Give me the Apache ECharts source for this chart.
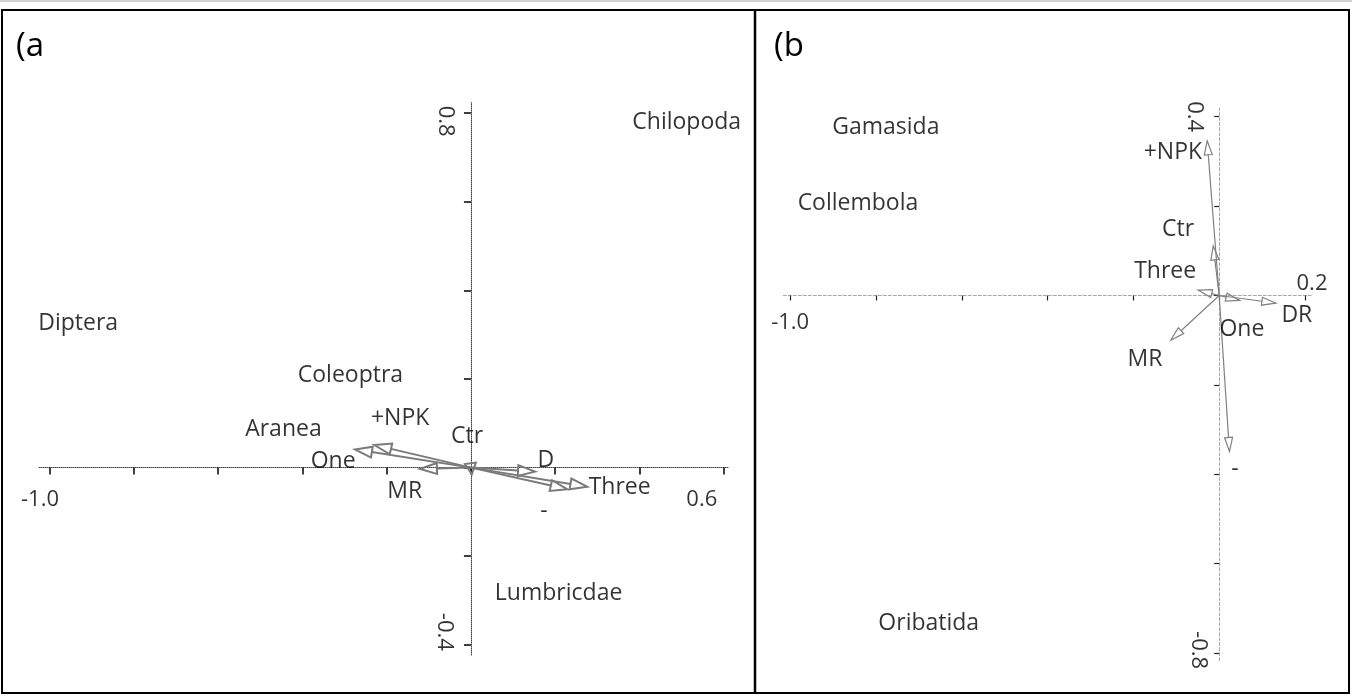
<!DOCTYPE html>
<html>
<head>
<meta charset="utf-8">
<script src="https://cdn.jsdelivr.net/npm/echarts@6/dist/echarts.min.js"></script>
<style>
html,body{margin:0;padding:0;background:#fff;}
#chart{width:1352px;height:695px;}
</style>
</head>
<body>
<div id="chart"></div>
<script>
// ---------- Data: panel (a) ----------
const xTicksA = [-1.0, -0.8, -0.6, -0.4, -0.2, 0, 0.2, 0.4, 0.6];
const yTicksA = [-0.4, -0.2, 0, 0.2, 0.4, 0.6, 0.8];
const tickLabelA = ['-1.0', '0.6', '0.8', '-0.4'];
const tickLabelAX = [-1.0, 0.6, 0, 0];
const tickLabelAY = [0, 0, 0.8, -0.4];
const speciesA = ['Chilopoda', 'Diptera', 'Coleoptra', 'Aranea', 'Lumbricdae'];
const speciesAX = [0.512, -0.932, -0.286, -0.445, 0.208];
const speciesAY = [0.780, 0.326, 0.209, 0.087, -0.285];
const envA = ['+NPK', 'One', 'MR', 'Ctr', 'D', '-', 'Three'];
const envAX = [-0.229, -0.275, -0.121, 0.002, 0.152, 0.229, 0.276];
const envAY = [0.051, 0.041, -0.003, -0.015, -0.009, -0.049, -0.043];
const envLabelAX = [-0.168, -0.327, -0.157, -0.009, 0.178, 0.173, 0.353];
const envLabelAY = [0.112, 0.015, -0.054, 0.071, 0.017, -0.100, -0.044];

// ---------- Data: panel (b) ----------
const xTicksB = [-1.0, -0.8, -0.6, -0.4, -0.2, 0, 0.2];
const yTicksB = [-0.8, -0.6, -0.4, -0.2, 0, 0.2, 0.4];
const tickLabelB = ['-1.0', '0.2', '0.4', '-0.8'];
const tickLabelBX = [-1.0, 0.2, 0, 0];
const tickLabelBY = [0, 0, 0.4, -0.8];
const speciesB = ['Gamasida', 'Collembola', 'Oribatida'];
const speciesBX = [-0.777, -0.842, -0.677];
const speciesBY = [0.375, 0.207, -0.733];
const envB = ['+NPK', 'Ctr', 'Three', 'One', 'DR', 'MR', '-'];
const envBX = [-0.028, -0.014, -0.049, 0.048, 0.132, -0.113, 0.024];
const envBY = [0.346, 0.111, 0.012, -0.011, -0.017, -0.100, -0.349];
const envLabelBX = [-0.108, -0.096, -0.126, 0.053, 0.181, -0.173, 0.037];
const envLabelBY = [0.319, 0.147, 0.053, -0.075, -0.044, -0.142, -0.390];

// ---------- Helpers ----------
const FONT = '"Open Sans"';
const FS = 23;

function arrowRender(headLen, headW, color, lw) {
  return function (params, api) {
    const o = api.coord([0, 0]);
    const t = api.coord([api.value(0), api.value(1)]);
    const dx = t[0] - o[0], dy = t[1] - o[1];
    const len = Math.hypot(dx, dy) || 1;
    const ux = dx / len, uy = dy / len;
    const hl = Math.min(headLen, Math.max(len, headLen * 0.65));
    const bx = t[0] - ux * hl, by = t[1] - uy * hl;
    const px = -uy, py = ux;
    const children = [];
    if (len > hl) {
      children.push({type: 'line', shape: {x1: o[0], y1: o[1], x2: bx, y2: by},
        style: {stroke: color, lineWidth: lw}});
    }
    children.push({type: 'polygon',
      shape: {points: [[t[0], t[1]], [bx + px * headW, by + py * headW], [bx - px * headW, by - py * headW]]},
      style: {fill: 'none', stroke: color, lineWidth: lw, lineJoin: 'miter'}});
    return {type: 'group', children: children};
  };
}

function pts(names, xs, ys) {
  return names.map((n, i) => ({name: n, value: [xs[i], ys[i]]}));
}

function textSeries(data, xi, fs) {
  return {
    type: 'scatter', xAxisIndex: xi, yAxisIndex: xi, symbolSize: 0, silent: true,
    data: data, z: 5,
    label: {show: true, position: 'inside', formatter: '{b}', color: '#000',
      fontFamily: FONT, fontSize: fs || FS, fontWeight: 500},
    emphasis: {disabled: true}
  };
}

// offsets are given in screen px [dx, dy]; for labels rotated -90deg the
// label's own frame is rotated, so convert to that frame.
function tickLabelData(labels, xs, ys, offsets, rots) {
  return labels.map((l, i) => {
    const o = offsets[i];
    const off = rots[i] === -90 ? [o[1], -o[0]] : o;
    return {name: l, value: [xs[i], ys[i]], label: {offset: off, rotate: rots[i]}};
  });
}

const chart = echarts.init(document.getElementById('chart'), null, {renderer: 'canvas'});

const axisA = {color: '#444', type: 'dotted', width: 1};
const axisB = {color: '#a8a8a8', type: [3, 2], width: 1};

const option = {
  backgroundColor: '#fff',
  animation: false,
  title: [
    {text: '(a', left: 11, top: 25, textStyle: {fontFamily: FONT, fontSize: 33, fontWeight: 500, color: '#000'}},
    {text: '(b', left: 769, top: 25, textStyle: {fontFamily: FONT, fontSize: 33, fontWeight: 500, color: '#000'}}
  ],
  grid: [
    {left: 39, top: 102.6, width: 689, height: 552.4},
    {left: 783.3, top: 108.2, width: 527.7, height: 552.5}
  ],
  xAxis: [
    {type: 'value', gridIndex: 0, min: -1.025, max: 0.61,
      axisLine: {onZero: true, lineStyle: axisA},
      axisTick: {customValues: xTicksA, length: 7, lineStyle: {color: '#000', width: 1.5}},
      axisLabel: {show: false}, splitLine: {show: false}},
    {type: 'value', gridIndex: 1, min: -1.016, max: 0.214,
      axisLine: {onZero: true, lineStyle: axisB},
      axisTick: {customValues: xTicksB, length: 5, lineStyle: {color: '#222', width: 1.2}},
      axisLabel: {show: false}, splitLine: {show: false}}
  ],
  yAxis: [
    {type: 'value', gridIndex: 0, min: -0.423, max: 0.824,
      axisLine: {onZero: true, lineStyle: axisA},
      axisTick: {customValues: yTicksA, length: 7, lineStyle: {color: '#000', width: 1.5}},
      axisLabel: {show: false}, splitLine: {show: false}},
    {type: 'value', gridIndex: 1, min: -0.817, max: 0.419,
      axisLine: {onZero: true, lineStyle: axisB},
      axisTick: {customValues: yTicksB, length: 5, lineStyle: {color: '#222', width: 1.2}},
      axisLabel: {show: false}, splitLine: {show: false}}
  ],
  series: [
    {type: 'custom', xAxisIndex: 0, yAxisIndex: 0, clip: false, silent: true,
      renderItem: arrowRender(17, 5.5, '#7a7a7a', 2),
      data: envAX.map((x, i) => [x, envAY[i]]), z: 4},
    {type: 'custom', xAxisIndex: 1, yAxisIndex: 1, clip: false, silent: true,
      renderItem: arrowRender(14, 4, '#808080', 1.2),
      data: envBX.map((x, i) => [x, envBY[i]]), z: 4},
    textSeries(pts(speciesA, speciesAX, speciesAY), 0),
    textSeries(pts(envA, envLabelAX, envLabelAY), 0),
    textSeries(pts(speciesB, speciesBX, speciesBY), 1),
    textSeries(pts(envB, envLabelBX, envLabelBY), 1),
    textSeries(tickLabelData(tickLabelA, tickLabelAX, tickLabelAY,
      [[-9.5, 32], [-22, 32], [-26, 8], [-27, -13]], [0, 0, -90, -90]), 0, 22),
    textSeries(tickLabelData(tickLabelB, tickLabelBX, tickLabelBY,
      [[0, 27.5], [7, -12], [-25, 0], [-21, -3]], [0, 0, -90, -90]), 1, 22)
  ],
  graphic: [
    {type: 'line', shape: {x1: 0, y1: 1, x2: 1352, y2: 1}, style: {stroke: '#d0d0d0', lineWidth: 2}, silent: true},
    {type: 'rect', shape: {x: 2, y: 10, width: 1347, height: 683}, style: {fill: 'none', stroke: '#000', lineWidth: 2}, silent: true},
    {type: 'line', shape: {x1: 755, y1: 10, x2: 755, y2: 693}, style: {stroke: '#000', lineWidth: 2.5}, silent: true}
  ]
};
chart.setOption(option);
</script>
</body>
</html>
